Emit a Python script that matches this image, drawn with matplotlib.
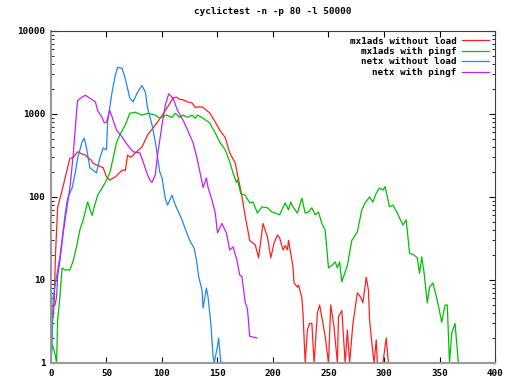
import matplotlib
matplotlib.use("Agg")
from matplotlib import pyplot as plt

# mx1ads without load
red_x = [0, 2, 3, 4, 6, 10, 14, 17, 20, 24, 28, 31, 33, 36, 38, 42, 47, 50, 53, 58, 64, 67, 69, 72, 76, 82, 87, 92, 96,
         103, 110, 113, 116, 119, 123, 127, 130, 134, 137, 143, 148, 152, 157, 161, 166, 168, 171, 173, 175, 177, 179,
         184, 187, 191, 195, 198, 201, 204, 206, 209, 211, 213, 214, 218, 219, 222, 223, 226, 227, 229, 231, 233, 235,
         237, 240, 242, 245, 247, 250, 252, 255, 258, 259, 262, 265, 267, 269, 272, 276, 279, 281, 284, 286, 287, 290,
         291, 293, 294, 299, 302, 304]
red_y = [5, 3.5, 6, 20, 75, 120, 200, 290, 300, 350, 330, 320, 300, 280, 255, 240, 225, 175, 160, 175, 210, 210, 320, 300,
         340, 400, 560, 680, 800, 1100, 1550, 1600, 1500, 1480, 1400, 1360, 1200, 1220, 1200, 1030, 800, 640, 520, 340,
         255, 185, 120, 85, 58, 42, 30, 26.5, 18.5, 48, 33, 18.5, 28, 35, 32, 23, 26, 23, 30, 14.4, 9.2, 8.2, 8.7, 6.1,
         4, 1, 2.5, 3, 3, 1, 4, 5, 3, 2.1, 1, 5, 2.7, 1, 3.6, 4.3, 1, 2.5, 1, 3, 7, 6.2, 5.3, 10.8, 7.5, 3.3, 1.3, 1,
         1.9, 1, 1, 2, 1]

# mx1ads with pingf
green_x = [0, 1, 3.6, 5, 6, 8, 10, 12.6, 17, 20, 23, 26, 29, 33, 37, 40, 42, 49, 53, 56, 59, 62, 67, 71, 76, 82, 87, 94,
           98, 104, 109, 112, 116, 119, 123, 127, 130, 132, 137, 143, 148, 152, 157, 161, 164, 167, 168, 171, 175, 179,
           182, 186, 190, 195, 199, 202, 206, 211, 214, 216, 218, 222, 226, 229, 232, 235, 238, 241, 244, 247, 250, 253,
           256, 258, 260, 262, 267, 271, 276, 280, 283, 287, 290, 293, 296, 299, 301, 305, 308, 312, 317, 320, 323, 327,
           330, 332, 334, 336, 339, 341, 344, 348, 352, 355, 357, 359, 361, 364, 367]
green_y = [1, 1.7, 1.3, 1, 3.3, 6.2, 14, 13.2, 13.2, 17, 25, 40, 53, 87, 60, 85, 105, 150, 195, 295, 450, 560, 740, 1020,
           1050, 970, 1020, 970, 890, 970, 910, 1020, 910, 970, 910, 970, 890, 970, 890, 780, 590, 460, 370, 265, 195,
           150, 160, 110, 105, 85, 87, 64, 76, 74, 66, 64, 61, 85, 70, 87, 76, 64, 97, 64, 66, 74, 61, 66, 48, 40, 14,
           15, 16.5, 14, 16.5, 9.5, 15, 30, 38, 70, 85, 100, 87, 111, 128, 121, 133, 76, 80, 64, 46, 53, 21, 20, 18.5,
           12, 19, 12.5, 5.3, 8.2, 9.2, 5.7, 3.1, 5, 5, 1, 2.3, 3, 1]

# netx without load
blue_x = [0, 1, 2, 5, 8, 11, 13, 15, 19, 22, 24, 28, 30, 32, 35, 38, 41, 44, 47, 50, 51, 55, 58, 60, 64, 67, 71, 74, 78,
          82, 85, 87, 91, 94, 96, 98, 100, 103, 105, 109, 112, 114, 118, 122, 125, 129, 131.5, 133, 136, 137, 140,
          141.5, 144, 146, 147, 150, 151, 153]
blue_y = [1, 1.7, 6.2, 11, 19, 40, 66, 97, 128, 200, 295, 460, 510, 390, 225, 210, 195, 295, 390, 370, 800, 1830, 2950,
          3650, 3550, 2650, 1550, 1400, 1830, 2200, 1830, 1180, 740, 460, 300, 200, 170, 95, 80, 105, 80, 70, 53, 38,
          30, 24, 16, 11, 7.6, 4.6, 8, 6.2, 3, 1.2, 1, 1.6, 2, 1]

# netx with pingf
purple_x = [0, 3.6, 5, 6, 8, 11, 14, 17, 20, 23, 24, 28, 31, 35, 40, 42, 46, 48, 50, 53, 56, 59, 64, 67, 71, 74, 80, 83,
            86, 89, 91, 94, 96, 100, 103, 106, 110, 114, 119, 123, 128, 131.5, 134, 137, 140, 141.5, 145, 148, 150,
            154, 158, 161, 164, 167.5, 170, 172, 175, 177, 179, 185.5]
purple_y = [4.7, 5, 6.2, 11, 17, 37, 70, 128, 320, 1050, 1450, 1600, 1680, 1550, 1400, 1100, 910, 780, 800, 1100, 840,
            640, 530, 460, 390, 350, 340, 265, 200, 160, 150, 185, 320, 740, 1270, 1750, 1550, 1100, 840, 640, 450, 295,
            205, 130, 170, 130, 92, 64, 37, 48, 37, 23, 25, 17.4, 11.5, 11, 5.3, 4.5, 2.1, 2]

font = {"family": "DejaVu Sans Mono", "weight": "bold", "size": 6.7}

fig = plt.figure(figsize=(5.12, 3.84), dpi=100)
ax = fig.add_axes([0.0996, 0.0547, 0.8672, 0.8646])

ax.plot(red_x, red_y, color="#ff2020", lw=0.9, label="mx1ads without load")
ax.plot(green_x, green_y, color="#00c000", lw=0.9, label="mx1ads with pingf")
ax.plot(blue_x, blue_y, color="#1e88f0", lw=0.9, label="netx without load")
ax.plot(purple_x, purple_y, color="#c020ff", lw=0.9, label="netx with pingf")

ax.set_yscale("log")
ax.set_xlim(0, 400)
ax.set_ylim(1, 10000)
ax.set_xticks(range(0, 401, 50))
ax.set_yticks([1, 10, 100, 1000, 10000])
ax.set_yticklabels(["1", "10", "100", "1000", "10000"])
for lab in ax.get_xticklabels() + ax.get_yticklabels():
    lab.set_fontproperties(matplotlib.font_manager.FontProperties(**font))

ax.tick_params(which="both", direction="in", top=True, right=True, colors="black")
ax.tick_params(which="major", length=4, width=0.8, pad=4)
ax.tick_params(which="minor", length=2, width=0.6)

for side in ["left", "bottom"]:
    ax.spines[side].set_color("#999999")
    ax.spines[side].set_linewidth(1.5)
for side in ["top", "right"]:
    ax.spines[side].set_color("#404040")
    ax.spines[side].set_linewidth(0.8)

ax.set_title("cyclictest -n -p 80 -l 50000", fontdict=font, pad=12)

leg = ax.legend(loc="upper right", frameon=False, markerfirst=False, prop=font,
                handlelength=3.0, handletextpad=0.5, labelspacing=0.15,
                borderaxespad=0.5, borderpad=0.1)

plt.savefig("out.png", dpi=100)
